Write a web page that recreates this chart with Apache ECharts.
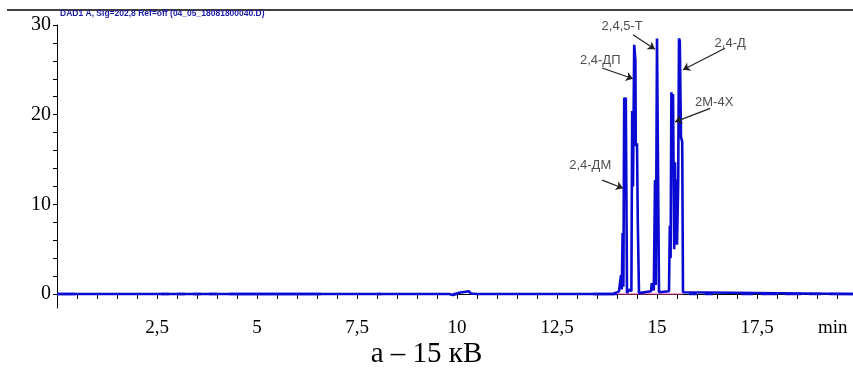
<!DOCTYPE html>
<html>
<head>
<meta charset="utf-8">
<script src="https://cdn.jsdelivr.net/npm/echarts@6/dist/echarts.min.js"></script>
<style>
html, body { margin: 0; padding: 0; background: #fff; }
#chart { width: 853px; height: 374px; }
</style>
</head>
<body>
<div id="chart"></div>
<script>
// хроматограмма, время в минутах, сигнал в mAU
var timeMin = [0, 9.8, 9.9, 10.05, 10.1, 10.3, 10.35, 10.5, 13.9, 14.05, 14.1, 14.12, 14.14, 14.16, 14.18, 14.2, 14.22, 14.25, 14.3, 14.36,
    14.38, 14.4, 14.43, 14.46, 14.47, 14.5, 14.52, 14.55, 14.6, 14.85, 14.87, 14.92, 14.95, 14.97, 15.0, 15.03, 15.05, 15.3, 15.32, 15.34,
    15.36, 15.38, 15.4, 15.43, 15.45, 15.47, 15.49, 15.5, 15.53, 15.55, 15.57, 15.6, 15.63, 15.65, 15.7, 19.9];
var signal = [0, 0, -0.1, 0.15, 0.3, 0.3, 0.05, 0, 0, 0.3, 2.1, 0.5, 6.8, 0.8, 21.9, 21.5, 21.9, 0.1, 0.5, 0.3,
    20.4, 12, 27.8, 26, 16.5, 16.8, 8, 0.1, 0.3, 0.3, 1.2, 0.4, 12.7, 1, 28.5, 28.3, 0.2, 0.3, 7.6, 4,
    22.5, 21, 22.3, 5, 14.7, 5.5, 12.8, 5.5, 12.5, 28.5, 28.2, 17.5, 17, 0.2, 0, 0];

// участки шума базовой линии (толще)
var noiseStart = [0, 2.6, 3.0, 3.4, 3.8, 4.3, 8.0, 9.9, 13.4, 15.8, 16.2, 17.1, 17.6, 18.2, 18.8, 19.3];
var noiseEnd = [0.45, 2.8, 3.2, 3.6, 4.0, 6.6, 8.1, 10.0, 14.0, 16.0, 16.4, 17.4, 18.0, 18.6, 19.1, 19.9];

// базовая линия интегрирования
var baseLineX = [14.0, 15.65];

var peakNames = ['2,4-ДМ', '2,4-ДП', '2,4,5-Т', '2,4-Д', '2М-4Х'];
var labelX = [13.33, 13.58, 14.13, 16.83, 16.43];
var labelY = [14.3, 26.1, 29.8, 28.0, 21.4];
var arrowFromX = [13.63, 13.63, 14.4, 16.7, 16.33];
var arrowFromY = [12.7, 25.2, 28.9, 27.4, 20.7];
var arrowToX = [14.15, 14.4, 14.95, 15.65, 15.45];
var arrowToY = [11.8, 24.0, 27.3, 25.0, 19.2];

var xLabelValues = [2.5, 5, 7.5, 10, 12.5, 15, 17.5];
var yLabelValues = [0, 10, 20, 30];

var xTicks = [];
for (var t = 0; t <= 19.5; t += 0.5) xTicks.push(t);
var yTicks = [];
for (var v = 0; v <= 30; v += 2) yTicks.push(v);

var lineData = [];
for (var i = 0; i < timeMin.length; i++) lineData.push([timeMin[i], signal[i]]);

var noiseData = [];
for (var j = 0; j < noiseStart.length; j++) {
    noiseData.push([noiseStart[j], 0]);
    noiseData.push([noiseEnd[j], 0]);
    noiseData.push(null);
}

var labelData = [];
var arrows = [];
for (var k = 0; k < peakNames.length; k++) {
    labelData.push([labelX[k], labelY[k], peakNames[k]]);
    arrows.push([{ coord: [arrowFromX[k], arrowFromY[k]] }, { coord: [arrowToX[k], arrowToY[k]] }]);
}

var serif = '"Liberation Serif", "DejaVu Serif", serif';

var chart = echarts.init(document.getElementById('chart'));
chart.setOption({
    animation: false,
    grid: { left: 57, right: 0, top: 25, bottom: 66 },
    xAxis: {
        type: 'value',
        min: 0,
        max: 19.9,
        splitLine: { show: false },
        axisLine: { lineStyle: { color: '#000', width: 1 } },
        axisTick: { customValues: xTicks, length: 5, lineStyle: { color: '#000' } },
        axisLabel: {
            customValues: xLabelValues,
            margin: 11,
            color: '#000',
            fontFamily: serif,
            fontSize: 19,
            formatter: function (val) { return String(val).replace('.', ','); }
        }
    },
    yAxis: {
        type: 'value',
        min: -1.56,
        max: 30,
        splitLine: { show: false },
        axisLine: { show: true, lineStyle: { color: '#000', width: 1 } },
        axisTick: { show: true, customValues: yTicks, length: 4, lineStyle: { color: '#000' } },
        axisLabel: {
            customValues: yLabelValues,
            margin: 6,
            color: '#000',
            fontFamily: serif,
            fontSize: 20
        }
    },
    series: [
        {
            type: 'line',
            data: [[baseLineX[0], 0], [baseLineX[1], 0]],
            symbol: 'none',
            lineStyle: { color: '#e0409a', width: 1.2 },
            z: 1
        },
        {
            type: 'line',
            data: noiseData,
            symbol: 'none',
            connectNulls: false,
            lineStyle: { color: '#1010c8', width: 2.5 },
            z: 2
        },
        {
            type: 'line',
            data: lineData,
            symbol: 'none',
            lineStyle: { color: '#0a0ad2', width: 2.6 },
            z: 3,
            markLine: {
                silent: true,
                symbol: ['none', 'arrow'],
                symbolSize: 7,
                label: { show: false },
                lineStyle: { color: '#222', width: 1.2, type: 'solid' },
                data: arrows
            }
        },
        {
            type: 'scatter',
            data: labelData,
            symbolSize: 0,
            silent: true,
            label: {
                show: true,
                position: 'inside',
                color: '#222',
                fontFamily: '"Liberation Sans", Arial, sans-serif',
                fontSize: 13,
                formatter: function (p) { return p.value[2]; }
            },
            z: 4
        }
    ],
    graphic: [
        { type: 'line', shape: { x1: 7, y1: 10, x2: 853, y2: 10 }, style: { stroke: '#000', lineWidth: 1.5 } },
        {
            type: 'text', left: 60, top: 9,
            style: { text: 'DAD1 A, Sig=202,8 Ref=off (04_05_18081800040.D)', fill: '#1a1aa8', font: 'bold 8.5px "Liberation Sans", sans-serif' }
        },
        {
            type: 'text', left: 818, top: 319,
            style: { text: 'min', fill: '#000', font: '19px ' + serif }
        },
        {
            type: 'text', left: 'center', top: 340,
            style: { text: 'а – 15 кВ', fill: '#000', font: '29px ' + serif }
        }
    ]
});
</script>
</body>
</html>
